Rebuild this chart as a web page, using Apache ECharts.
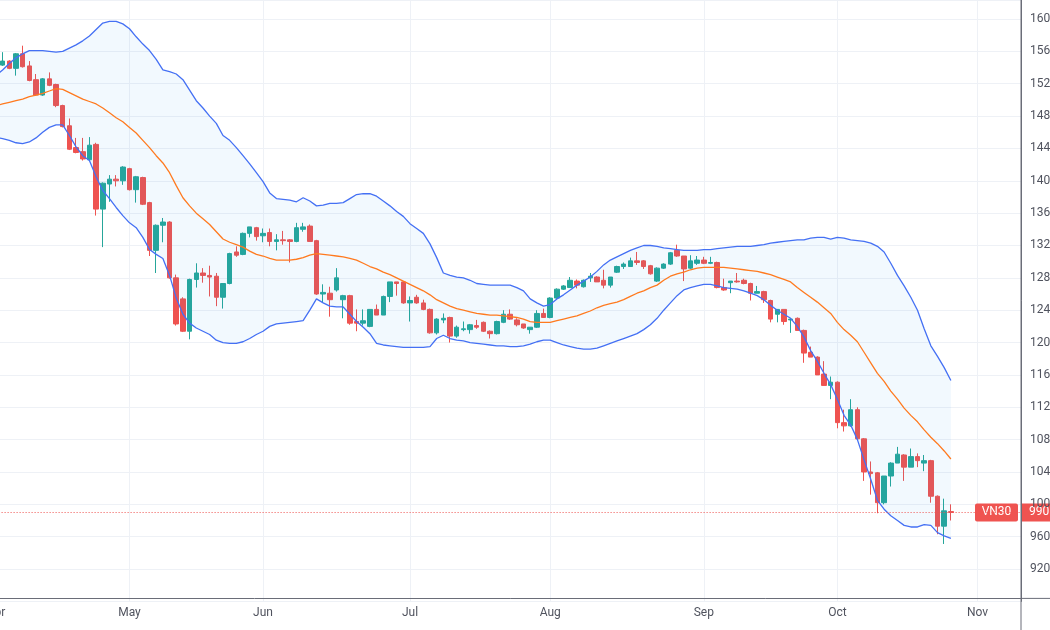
<!DOCTYPE html>
<html>
<head>
<meta charset="utf-8">
<title>VN30</title>
<script src="https://cdn.jsdelivr.net/npm/echarts@6/dist/echarts.min.js"></script>
<style>
  html, body { margin: 0; padding: 0; background: #fff; }
  #chart { width: 1050px; height: 630px; }
</style>
</head>
<body>
<div id="chart"></div>
<script>
'use strict';

const symbol = 'VN30';
// HOSE holidays in the window (Hung Kings, 30/4-1/5, National Day)
const holidays = ['2022-04-11', '2022-05-02', '2022-05-03', '2022-09-01', '2022-09-02'];
const monthNames = ['Jan', 'Feb', 'Mar', 'Apr', 'May', 'Jun', 'Jul', 'Aug', 'Sep', 'Oct', 'Nov', 'Dec'];

// daily candles from 2022-04-01: [open, close, low, high]
const candles = [
  [1540, 1543, 1535, 1547], [1543, 1548, 1542, 1559], [1548, 1539, 1538, 1549], [1539, 1557, 1530, 1558],
  [1557, 1541, 1540, 1567], [1542, 1524, 1523, 1548], [1525, 1506, 1505, 1532], [1506, 1526, 1505, 1527],
  [1526, 1518, 1517, 1534], [1519, 1493, 1491, 1520], [1493, 1467, 1466, 1494], [1468, 1439, 1438, 1477],
  [1441, 1435, 1434, 1453], [1436, 1427, 1425, 1453], [1426, 1444, 1425, 1454], [1445, 1365, 1357, 1447],
  [1365, 1397, 1318, 1398], [1396, 1402, 1374, 1407], [1402, 1400, 1393, 1407], [1400, 1417, 1395, 1418],
  [1415, 1389, 1388, 1416], [1389, 1405, 1373, 1406], [1404, 1371, 1370, 1405], [1373, 1314, 1307, 1374],
  [1314, 1345, 1286, 1346], [1345, 1349, 1324, 1354], [1349, 1280, 1279, 1350], [1280, 1223, 1221, 1284],
  [1254, 1214, 1213, 1256], [1214, 1278, 1204, 1279], [1278, 1286, 1268, 1298], [1286, 1283, 1274, 1292],
  [1283, 1281, 1257, 1295], [1282, 1256, 1245, 1286], [1256, 1273, 1242, 1273], [1273, 1310, 1272, 1311],
  [1312, 1308, 1306, 1319], [1309, 1335, 1308, 1336], [1335, 1343, 1330, 1343], [1342, 1331, 1326, 1343],
  [1332, 1335, 1324, 1341], [1336, 1325, 1319, 1341], [1325, 1327, 1314, 1334], [1327, 1326, 1321, 1338],
  [1327, 1325, 1299, 1328], [1325, 1342, 1324, 1348], [1340, 1343, 1337, 1348], [1344, 1325, 1325, 1346],
  [1326, 1260, 1259, 1327], [1260, 1262, 1249, 1272], [1261, 1253, 1232, 1269], [1265, 1280, 1263, 1292],
  [1253, 1258, 1230, 1259], [1258, 1224, 1222, 1259], [1226, 1224, 1214, 1241], [1224, 1227, 1221, 1241],
  [1220, 1241, 1219, 1241], [1241, 1234, 1234, 1247], [1234, 1257, 1234, 1258], [1257, 1275, 1250, 1275],
  [1275, 1273, 1258, 1275], [1275, 1249, 1248, 1276], [1249, 1252, 1226, 1257], [1256, 1249, 1248, 1259],
  [1249, 1241, 1240, 1253], [1241, 1212, 1211, 1242], [1212, 1229, 1210, 1230], [1228, 1230, 1224, 1236],
  [1231, 1208, 1200, 1232], [1208, 1219, 1206, 1221], [1216, 1217, 1214, 1226], [1216, 1222, 1211, 1223],
  [1221, 1219, 1217, 1228], [1225, 1214, 1213, 1226], [1214, 1211, 1205, 1215], [1211, 1226, 1210, 1227],
  [1225, 1235, 1224, 1240], [1235, 1229, 1228, 1241], [1228, 1222, 1220, 1230], [1223, 1218, 1217, 1223],
  [1216, 1219, 1211, 1219], [1219, 1236, 1218, 1240], [1236, 1231, 1231, 1242], [1231, 1255, 1230, 1256],
  [1255, 1266, 1254, 1267], [1266, 1270, 1265, 1271], [1268, 1277, 1268, 1281], [1276, 1271, 1267, 1278],
  [1269, 1277, 1268, 1278], [1280, 1282, 1275, 1286], [1281, 1275, 1275, 1282], [1277, 1271, 1267, 1290],
  [1271, 1281, 1268, 1281], [1287, 1294, 1286, 1295], [1294, 1297, 1291, 1299], [1294, 1301, 1294, 1305],
  [1301, 1299, 1296, 1312], [1301, 1294, 1291, 1302], [1295, 1285, 1284, 1296], [1276, 1292, 1275, 1293],
  [1292, 1297, 1291, 1298], [1297, 1311, 1296, 1312], [1314, 1307, 1306, 1321], [1307, 1291, 1276, 1307],
  [1292, 1301, 1291, 1308], [1298, 1302, 1296, 1307], [1302, 1298, 1297, 1306], [1298, 1299, 1297, 1306],
  [1299, 1268, 1267, 1300], [1268, 1265, 1264, 1279], [1274, 1276, 1261, 1276], [1276, 1275, 1274, 1286],
  [1277, 1273, 1272, 1279], [1273, 1261, 1252, 1274], [1261, 1263, 1261, 1270], [1263, 1253, 1249, 1264],
  [1252, 1229, 1225, 1253], [1235, 1241, 1225, 1241], [1241, 1226, 1222, 1241], [1228, 1229, 1212, 1230],
  [1230, 1215, 1215, 1231], [1215, 1187, 1175, 1216], [1188, 1182, 1182, 1195], [1182, 1160, 1160, 1183],
  [1161, 1147, 1147, 1177], [1147, 1151, 1130, 1158], [1151, 1101, 1094, 1152], [1101, 1097, 1090, 1117],
  [1097, 1117, 1096, 1130], [1117, 1081, 1080, 1120], [1081, 1040, 1029, 1082], [1040, 1038, 1012, 1053],
  [1039, 1002, 989, 1040], [1002, 1035, 1000, 1035], [1035, 1051, 1022, 1052], [1051, 1062, 1051, 1071],
  [1061, 1046, 1029, 1062], [1046, 1059, 1046, 1069], [1059, 1054, 1046, 1063], [1051, 1054, 1041, 1061],
  [1054, 1010, 1002, 1055], [1010, 973, 963, 1011], [973, 992, 951, 1007], [991, 990, 980, 1000]
];

// Bollinger bands (20, 2)
const upperBand = [
  1530, 1537, 1545, 1552, 1557, 1561, 1561, 1561, 1560, 1559,
  1560, 1564, 1568, 1573, 1579, 1587, 1595, 1597, 1597, 1594,
  1588, 1578, 1569, 1561, 1550, 1537, 1535, 1532, 1525, 1512,
  1499, 1490, 1480, 1471, 1456, 1450, 1441, 1431, 1421, 1410,
  1399, 1385, 1378, 1377, 1376, 1374, 1379, 1375, 1369, 1370,
  1372, 1372, 1373, 1378, 1383, 1384, 1384, 1381, 1375, 1369,
  1362, 1356, 1347, 1341, 1335, 1322, 1305, 1286, 1283, 1281,
  1280, 1277, 1273, 1272, 1271, 1271, 1271, 1271, 1268, 1264,
  1254, 1249, 1245, 1247, 1254, 1259, 1265, 1271, 1276, 1281,
  1288, 1296, 1302, 1306, 1310, 1314, 1317, 1320, 1320, 1319,
  1317, 1316, 1315, 1314, 1314, 1314, 1315, 1315, 1316, 1317,
  1318, 1319, 1319, 1319, 1320, 1321, 1323, 1324, 1325, 1326,
  1327, 1327, 1329, 1330, 1330, 1328, 1330, 1329, 1327, 1326,
  1325, 1323, 1319, 1312, 1298, 1283, 1270, 1256, 1240, 1217,
  1196, 1183, 1169, 1153
];
const basis = [
  1493, 1495, 1497, 1499, 1501, 1504, 1506, 1508, 1511, 1514,
  1513, 1509, 1505, 1501, 1498, 1495, 1490, 1484, 1478, 1473,
  1466, 1459, 1450, 1441, 1431, 1422, 1410, 1394, 1379, 1369,
  1360, 1353, 1346, 1337, 1328, 1324, 1321, 1318, 1313, 1309,
  1307, 1304, 1302, 1302, 1302, 1303, 1305, 1308, 1310, 1309,
  1308, 1307, 1306, 1304, 1302, 1298, 1294, 1291, 1287, 1284,
  1280, 1276, 1272, 1268, 1264, 1259, 1253, 1249, 1245, 1242,
  1240, 1238, 1236, 1235, 1234, 1234, 1233, 1232, 1231, 1229,
  1226, 1225, 1225, 1225, 1227, 1229, 1231, 1233, 1236, 1239,
  1243, 1246, 1248, 1250, 1253, 1257, 1261, 1264, 1268, 1271,
  1277, 1282, 1285, 1287, 1290, 1292, 1293, 1293, 1293, 1293,
  1292, 1291, 1290, 1289, 1288, 1286, 1284, 1281, 1278, 1275,
  1268, 1262, 1256, 1250, 1243, 1236, 1225, 1216, 1209, 1201,
  1188, 1175, 1162, 1152, 1140, 1130, 1119, 1110, 1102, 1092,
  1083, 1075, 1066, 1056
];
const lowerBand = [
  1454, 1452, 1450, 1447, 1446, 1448, 1453, 1460, 1466, 1469,
  1469, 1456, 1442, 1431, 1425, 1405, 1388, 1378, 1367, 1357,
  1348, 1342, 1330, 1315, 1309, 1304, 1283, 1255, 1235, 1224,
  1218, 1214, 1210, 1203, 1200, 1199, 1199, 1201, 1205, 1210,
  1214, 1220, 1223, 1224, 1225, 1226, 1227, 1240, 1254, 1249,
  1245, 1244, 1244, 1235, 1226, 1219, 1211, 1199, 1197, 1196,
  1195, 1194, 1194, 1194, 1194, 1195, 1205, 1209, 1205, 1203,
  1202, 1200, 1199, 1198, 1197, 1196, 1196, 1195, 1195, 1196,
  1198, 1201, 1203, 1203, 1200, 1197, 1195, 1193, 1192, 1192,
  1193, 1196, 1199, 1202, 1205, 1208, 1211, 1216, 1222, 1230,
  1240, 1249, 1258, 1265, 1268, 1270, 1272, 1272, 1270, 1268,
  1267, 1266, 1264, 1261, 1258, 1253, 1246, 1240, 1235, 1230,
  1220, 1207, 1190, 1177, 1162, 1148, 1130, 1110, 1098, 1080,
  1055, 1031, 1005, 994, 986, 980, 974, 972, 972, 975,
  974, 965, 961, 958
];

// trading calendar, with empty days to the right of the last bar
function tradingDays(start, count) {
  const out = [];
  const d = new Date(start + 'T00:00:00Z');
  while (out.length < count) {
    const wd = d.getUTCDay();
    const s = d.toISOString().slice(0, 10);
    if (wd !== 0 && wd !== 6 && holidays.indexOf(s) < 0) out.push(s);
    d.setUTCDate(d.getUTCDate() + 1);
  }
  return out;
}
const dates = tradingDays('2022-04-01', 154);
const isMonthStart = (i) => i === 0 || dates[i].slice(5, 7) !== dates[i - 1].slice(5, 7);

const lastClose = candles[candles.length - 1][1];
const bandWidth = upperBand.map((u, i) => u - lowerBand[i]);

const up = '#26a69a';
const down = '#ef5350';
const gridColor = '#eef1f6';
const axisColor = '#6a6d78';
const textColor = '#50535e';
const font = 'Roboto, "Liberation Sans", sans-serif';

let chart = echarts.init(document.getElementById('chart'));
chart.setOption({
  animation: false,
  backgroundColor: '#fff',
  grid: { left: -7.4, right: 29, top: 0, bottom: 28.6, containLabel: false, outerBoundsMode: 'none' },
  xAxis: {
    type: 'category',
    data: dates,
    boundaryGap: true,
    offset: -3,
    axisLine: { lineStyle: { color: axisColor } },
    axisTick: { show: false, alignWithLabel: true },
    axisLabel: {
      interval: (i) => isMonthStart(i),
      formatter: (v) => monthNames[+v.slice(5, 7) - 1],
      color: textColor,
      fontFamily: font,
      fontSize: 12,
      margin: 9
    },
    splitLine: {
      show: true,
      alignWithLabel: true,
      interval: (i) => isMonthStart(i),
      lineStyle: { color: gridColor }
    }
  },
  yAxis: {
    type: 'value',
    position: 'right',
    min: 880,
    max: 1623.5,
    interval: 40,
    axisLine: { show: true, lineStyle: { color: axisColor } },
    axisTick: { show: false },
    axisLabel: {
      color: textColor,
      fontFamily: font,
      fontSize: 12,
      margin: 9,
      showMinLabel: false,
      showMaxLabel: false,
      formatter: (v) => String(v)
    },
    splitLine: { lineStyle: { color: gridColor } }
  },
  series: [
    {
      name: 'bandBase',
      type: 'line',
      data: lowerBand,
      stack: 'bb',
      symbol: 'none',
      silent: true,
      lineStyle: { opacity: 0 }
    },
    {
      name: 'bandFill',
      type: 'line',
      data: bandWidth,
      stack: 'bb',
      symbol: 'none',
      silent: true,
      lineStyle: { opacity: 0 },
      areaStyle: { color: 'rgba(33,150,243,0.06)', opacity: 1 }
    },
    {
      name: 'Upper',
      type: 'line',
      data: upperBand,
      symbol: 'none',
      lineStyle: { color: '#4470f4', width: 1.3 }
    },
    {
      name: 'Lower',
      type: 'line',
      data: lowerBand,
      symbol: 'none',
      lineStyle: { color: '#4470f4', width: 1.3 }
    },
    {
      name: 'Basis',
      type: 'line',
      data: basis,
      symbol: 'none',
      lineStyle: { color: '#ff7a1f', width: 1.3 }
    },
    {
      name: symbol,
      type: 'candlestick',
      data: candles,
      barWidth: 5,
      itemStyle: {
        color: up,
        color0: down,
        borderColor: up,
        borderColor0: down,
        borderWidth: 1
      },
      markLine: {
        silent: true,
        symbol: 'none',
        label: { show: false },
        lineStyle: { color: down, type: [1, 2], width: 1 },
        data: [{ yAxis: lastClose }]
      }
    }
  ]
});

// price tags and the axis line stubs of the price scale
const tagY = chart.convertToPixel({ yAxisIndex: 0 }, lastClose);
const axisX = 1021;
const axisY = 598.4;
chart.setOption({
  graphic: [
    { type: 'line', shape: { x1: axisX, y1: 0, x2: axisX, y2: 630 }, style: { stroke: axisColor, lineWidth: 1 } },
    { type: 'line', shape: { x1: axisX, y1: axisY, x2: 1050, y2: axisY }, style: { stroke: axisColor, lineWidth: 1 } },
    { type: 'rect', shape: { x: 975, y: tagY - 9, width: 43, height: 18, r: 2 }, style: { fill: down } },
    {
      type: 'text', x: 996.5, y: tagY,
      style: { text: symbol, fill: '#fff', font: '12px ' + font, align: 'center', verticalAlign: 'middle', textAlign: 'center', textVerticalAlign: 'middle' }
    },
    { type: 'rect', shape: { x: axisX, y: tagY - 9, width: 40, height: 18 }, style: { fill: down } },
    {
      type: 'text', x: 1029, y: tagY,
      style: { text: lastClose.toFixed(2), fill: '#fff', font: '12px ' + font, align: 'left', verticalAlign: 'middle', textAlign: 'left', textVerticalAlign: 'middle' }
    }
  ]
});

window.onresize = () => {
  chart.resize();
};
</script>
</body>
</html>
